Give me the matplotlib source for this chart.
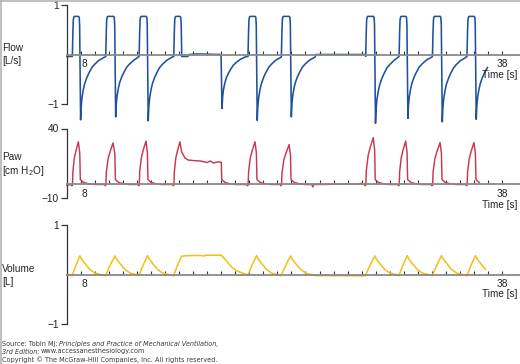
import numpy as np
import matplotlib
matplotlib.use('Agg')
import matplotlib.pyplot as plt
from matplotlib.lines import Line2D

plt.rcParams['font.family'] = ['Liberation Sans', 'DejaVu Sans']
plt.rcParams['mathtext.fontset'] = 'custom'
plt.rcParams['mathtext.rm'] = 'Liberation Sans'

# breath timing [s]
onset = [7.40, 9.78, 12.16, 14.63, 19.92, 22.30, 28.31, 30.69, 33.07, 35.53]
insp_end = [7.92, 10.42, 12.74, 15.16, 20.51, 22.94, 28.94, 31.25, 33.70, 36.12]
exp_start = [7.97, 10.47, 12.79, 18.05, 20.56, 22.99, 28.99, 31.30, 33.75, 36.17]
hold = 3  # 4th breath: inspiratory hold

# flow [L/s]
flow_top = 0.77
flow_min = [-1.32, -1.26, -1.34, -1.09, -1.33, -1.26, -1.39, -1.29, -1.36, -1.31]
decay_dt = [0, 0.04, 0.1, 0.2, 0.3, 0.45, 0.6, 0.8, 1.0, 1.3, 1.7]
decay_frac = [1, 0.8, 0.66, 0.53, 0.44, 0.35, 0.28, 0.2, 0.15, 0.09, 0.04]
flow_hold_t = [15.20, 15.60, 15.70, 16.30, 17.98]
flow_hold_v = [-0.04, -0.04, 0.0, 0.01, 0.0]
flow_pause_t = [24.70, 24.75, 28.27]
flow_pause_v = [-0.04, 0.0, 0.0]

# airway pressure [cm H2O]
paw_peak = [30.5, 29.7, 31.0, 30.5, 30.5, 28.5, 33.5, 31.0, 30.0, 30.0]
paw_peak_t = [7.81, 10.28, 12.63, 15.05, 20.40, 22.83, 28.83, 31.14, 33.59, 36.01]
paw_rise_t = [0, 0.05, 0.3, 0.6, 0.85, 1.0]
paw_rise_v = [0, 0.3, 0.62, 0.8, 0.92, 1.0]
paw_after_dt = [0.02, 0.25, 0.6, 1.0]
paw_after_v = [3.5, 1.5, 0.5, 0.0]
paw_hold_t = [15.17, 15.40, 15.63, 16.0, 16.5, 17.0, 17.2, 17.45, 17.8, 18.0]
paw_hold_v = [23.3, 19.0, 17.5, 17.1, 16.8, 15.7, 16.8, 15.4, 16.2, 15.8]
paw_pause_t = [24.45, 24.52, 24.60, 27.70, 27.95, 28.15]
paw_pause_v = [0.0, -1.7, 0.0, 0.3, 0.8, 0.2]

# volume [L]
vol_peak = [0.375, 0.375, 0.38, 0.37, 0.38, 0.375, 0.375, 0.38, 0.38, 0.38]
vol_rise_t = [0, 0.33, 0.67, 1.0]
vol_rise_v = [0, 0.36, 0.7, 1.0]
vol_decay_dt = [0, 0.12, 0.36, 0.71, 1.07, 1.43, 1.8]
vol_decay_frac = [1, 0.82, 0.59, 0.27, 0.08, 0.01, -0.06]
vol_hold_t = [15.5, 16.5, 16.75, 16.9, 17.1, 18.0, 18.35, 18.7, 19.05, 19.4, 19.8]
vol_hold_v = [0.38, 0.385, 0.375, 0.39, 0.39, 0.39, 0.28, 0.16, 0.08, 0.04, 0.0]

n = len(onset)


def nxt(i):
    return onset[i + 1] if i + 1 < n else 99.0


def build_flow():
    pts = [(7.0, -0.04)]
    for i in range(n):
        t0, te, tx = onset[i], insp_end[i], exp_start[i]
        pts += [(t0 - 0.02, -0.04), (t0 + 0.02, 0.45), (t0 + 0.05, 0.7),
                (t0 + 0.09, flow_top - 0.01), (t0 + 0.14, flow_top),
                (te - 0.1, flow_top), (te - 0.05, flow_top - 0.02), (te - 0.02, 0.6)]
        if i == hold:
            pts += [(te + 0.02, -0.04)] + list(zip(flow_hold_t, flow_hold_v))
        for dt, f in zip(decay_dt, decay_frac):
            if tx + dt < nxt(i) - 0.03:
                pts.append((tx + dt, flow_min[i] * f))
    pts += list(zip(flow_pause_t, flow_pause_v))
    pts = sorted(p for p in pts if p[0] <= 37.15)
    return np.array(pts).T


def build_paw():
    pts = [(7.0, -0.5)]
    for i in range(n):
        t0, tp, pk = onset[i], paw_peak_t[i], paw_peak[i]
        r = exp_start[i] - 0.04
        pts += [(t0 - 0.1, 0.0), (t0 - 0.05, -0.9), (t0 - 0.01, -0.4)]
        pts += [(t0 + f * (tp - t0), v * pk) for f, v in zip(paw_rise_t[1:], paw_rise_v[1:])]
        if i == hold:
            pts += list(zip(paw_hold_t, paw_hold_v))
        else:
            pts.append((r - 0.02, 0.74 * pk))
        pts += [(r + dt, v) for dt, v in zip(paw_after_dt, paw_after_v)]
    pts += list(zip(paw_pause_t, paw_pause_v))
    pts = sorted(p for p in pts if p[0] <= 36.63)
    return np.array(pts).T


def build_vol():
    pts = [(7.0, -0.01)]
    for i in range(n):
        t0, te, pk = onset[i], insp_end[i], vol_peak[i]
        pts.append((t0 - 0.03, -0.025))
        pts += [(t0 + f * (te - t0), v * pk) for f, v in zip(vol_rise_t, vol_rise_v)]
        if i == hold:
            pts += list(zip(vol_hold_t, vol_hold_v))
        else:
            for dt, f in zip(vol_decay_dt[1:], vol_decay_frac[1:]):
                if te + dt < nxt(i) - 0.05:
                    pts.append((te + dt, pk * f))
    pts = sorted(p for p in pts if p[0] <= 37.1)
    return np.array(pts).T


W, H = 520, 364
fig = plt.figure(figsize=(W / 100, H / 100), dpi=100)
fig.patch.set_facecolor('white')


def panel(top_px, bot_px, ylim, yticks, ylabels):
    ax = fig.add_axes([67 / W, 1 - bot_px / H, (W - 67) / W, (bot_px - top_px) / H])
    ax.set_xlim(7, 39.29)
    ax.set_ylim(*ylim)
    ax.patch.set_alpha(0)
    for s in ['top', 'right']:
        ax.spines[s].set_visible(False)
    ax.spines['left'].set_color('#333333')
    ax.spines['left'].set_linewidth(0.9)
    ax.spines['bottom'].set_position(('data', 0))
    ax.spines['bottom'].set_color('#8a8a8a')
    ax.spines['bottom'].set_linewidth(1.3)
    ax.set_yticks(yticks)
    ax.set_yticklabels(ylabels)
    ax.tick_params(axis='y', direction='out', length=4, width=0.9, color='#333333',
                   labelsize=7.3, pad=2, labelcolor='#222222')
    xt = list(range(8, 39))
    ax.set_xticks(xt)
    ax.set_xticklabels(['8' if t == 8 else '38' if t == 38 else '' for t in xt])
    ax.tick_params(axis='x', direction='in', length=3, width=0.8, color='#333333',
                   labelsize=7.3, pad=3, labelcolor='#222222')
    # the "8" sits just right of its tick
    ax.get_xticklabels()[0].set_horizontalalignment('left')
    return ax


ax1 = panel(5, 104, (-1, 1), [1, -1], ['1', '\u22121'])
ax2 = panel(128.5, 198.5, (-10, 40), [40, -10], ['40', '\u221210'])
ax3 = panel(225, 324, (-1, 1), [1, -1], ['1', '\u22121'])

ft, fv = build_flow()
pt, pv = build_paw()
vt, vv = build_vol()
ax1.plot(ft, fv, color='#1f519c', lw=1.15, clip_on=False, solid_joinstyle='round')
ax2.plot(pt, pv, color='#c8384f', lw=1.05, clip_on=False, solid_joinstyle='round')
ax3.plot(vt, vv, color='#f0c21c', lw=1.15, clip_on=False, solid_joinstyle='round')


def ftxt(x, y, s, **kw):
    return fig.text(x / W, 1 - y / H, s, **kw)


lab = dict(fontsize=7.2, color='#222222', va='center', ha='left')
ftxt(2, 48, 'Flow', **lab)
ftxt(2, 61, '[L/s]', **lab)
ftxt(2, 157, 'Paw', **lab)
ftxt(2, 171.5, '[cm H$_{\\mathrm{2}}$O]', **lab)
ftxt(2, 269, 'Volume', **lab)
ftxt(2, 282, '[L]', **lab)
for y in [75, 205, 294]:
    ftxt(517, y, 'Time [s]', fontsize=7.2, color='#222222', va='center', ha='right')

# footer, pieces placed one after another
renderer = fig.canvas.get_renderer()
foot = dict(fontsize=4.7, color='#3a3a3a', va='center', ha='left', family='DejaVu Sans')
space_px = 1.5


def footer_line(y, parts):
    x = 2.0
    for s, style in parts:
        t = ftxt(x, y, s, style=style, **foot)
        x += t.get_window_extent(renderer).width + space_px


footer_line(344, [('Source: Tobin MJ:', 'normal'),
                  ('Principles and Practice of Mechanical Ventilation,', 'italic')])
footer_line(351.5, [('3rd Edition:', 'italic'), ('www.accessanesthesiology.com', 'normal')])
footer_line(359.5, [('Copyright \u00a9 The McGraw-Hill Companies, Inc. All rights reserved.', 'normal')])

fig.add_artist(Line2D([0.8 / W, 0.8 / W], [0, 1], transform=fig.transFigure, color='#b4b4b4', lw=1.2))
fig.add_artist(Line2D([0, 1], [1 - 0.8 / H, 1 - 0.8 / H], transform=fig.transFigure, color='#b4b4b4', lw=1.2))

fig.savefig('out.png', dpi=100)
